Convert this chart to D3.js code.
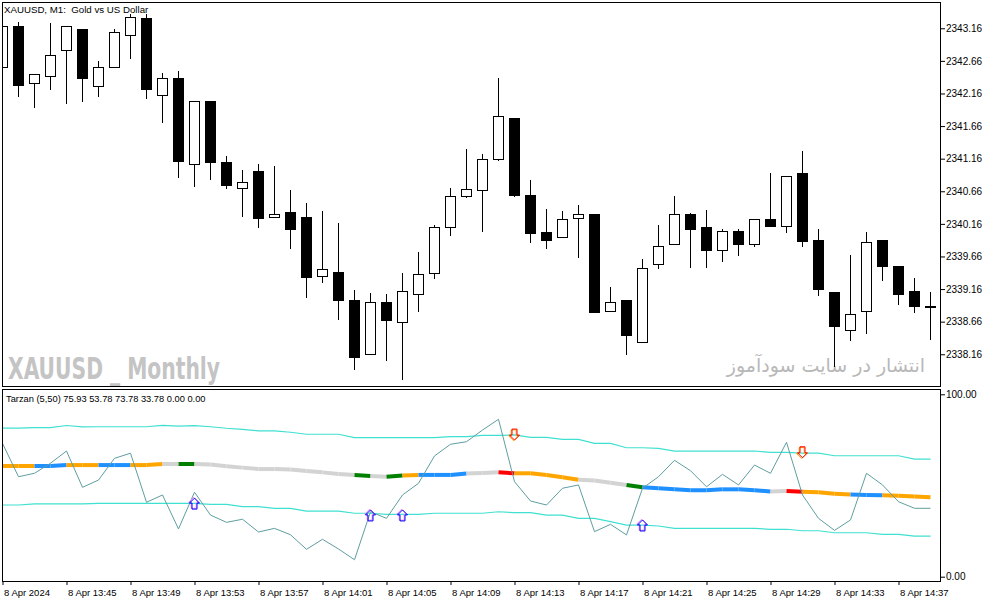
<!DOCTYPE html>
<html lang="en">
<head>
<meta charset="UTF-8">
<title>XAUUSD M1 Tarzan</title>
<script src="https://d3js.org/d3.v7.min.js"></script>
<style>
    body { margin: 0; background: #fff; }
    svg { display: block; font-family: "Liberation Sans", Arial, sans-serif; }
    .axis text { fill: #000; }
    .axis line { stroke: #000; }
</style>
</head>
<body>
<script>
    const W = 994, H = 603;

    // one bar per minute, 8 Apr 2024 13:41 .. 14:39
    const startTime = new Date(2024, 3, 8, 13, 41);

    const open = [2342.56, 2343.18, 2342.32, 2342.42, 2342.82, 2343.14, 2342.26, 2342.56, 2343.05, 2343.31,
        2342.13, 2342.39, 2341.07, 2342.04, 2341.10, 2340.70, 2340.97, 2340.25, 2340.33, 2340.25,
        2339.36, 2339.42, 2338.99, 2338.16, 2338.96, 2338.64, 2339.08, 2339.40, 2340.11, 2340.58,
        2340.67, 2341.15, 2341.77, 2340.60, 2340.02, 2339.95, 2340.24, 2340.31, 2338.82, 2338.99,
        2338.34, 2339.53, 2339.85, 2340.31, 2340.11, 2339.75, 2340.05, 2339.85, 2340.23, 2340.12,
        2340.93, 2339.90, 2339.10, 2338.53, 2338.81, 2339.91, 2339.51, 2339.12, 2338.89];
    const high = [2343.21, 2343.26, 2342.45, 2343.24, 2343.18, 2343.14, 2342.66, 2343.15, 2343.38, 2343.38,
        2342.47, 2342.50, 2342.04, 2342.04, 2341.20, 2340.99, 2341.08, 2341.04, 2340.68, 2340.48,
        2340.36, 2340.17, 2339.15, 2339.10, 2339.08, 2339.40, 2339.73, 2340.14, 2340.71, 2341.31,
        2341.23, 2342.40, 2341.77, 2340.84, 2340.39, 2340.36, 2340.45, 2340.31, 2339.19, 2338.99,
        2339.62, 2340.14, 2340.58, 2340.33, 2340.37, 2340.08, 2340.08, 2340.23, 2340.94, 2340.89,
        2341.28, 2340.08, 2339.10, 2339.69, 2340.04, 2339.91, 2339.51, 2339.33, 2339.12];
    const low = [2342.55, 2342.10, 2341.93, 2342.22, 2342.00, 2342.03, 2342.11, 2342.56, 2342.69, 2342.08,
        2341.70, 2340.87, 2340.72, 2340.84, 2340.70, 2340.26, 2340.10, 2340.25, 2339.78, 2339.03,
        2339.26, 2338.68, 2337.92, 2338.16, 2338.06, 2337.76, 2338.81, 2339.31, 2339.98, 2340.55,
        2340.04, 2341.12, 2340.57, 2339.87, 2339.78, 2339.95, 2339.64, 2338.80, 2338.82, 2338.15,
        2338.34, 2339.47, 2339.85, 2339.49, 2339.49, 2339.57, 2339.66, 2339.81, 2340.12, 2340.02,
        2339.80, 2339.05, 2337.97, 2338.37, 2338.47, 2339.29, 2338.92, 2338.80, 2338.38];
    const close = [2343.18, 2342.28, 2342.45, 2342.75, 2343.18, 2342.39, 2342.56, 2343.10, 2343.33, 2342.22,
        2342.39, 2341.11, 2342.04, 2341.10, 2340.75, 2340.80, 2340.24, 2340.31, 2340.07, 2339.34,
        2339.46, 2338.98, 2338.11, 2338.96, 2338.68, 2339.13, 2339.39, 2340.11, 2340.58, 2340.68,
        2341.15, 2341.80, 2340.59, 2340.01, 2339.90, 2340.23, 2340.31, 2338.80, 2338.96, 2338.45,
        2339.48, 2339.82, 2340.31, 2340.07, 2339.75, 2340.05, 2339.84, 2340.23, 2340.12, 2340.89,
        2339.89, 2339.15, 2338.58, 2338.77, 2339.88, 2339.50, 2339.07, 2338.89, 2338.89];

    // Tarzan (5,50) buffers
    const rsi = [73.1, 54.8, 56.7, 62.2, 68.9, 49.0, 53.0, 64.9, 67.7, 40.8,
        44.8, 26.2, 46.3, 33.8, 29.8, 31.5, 24.5, 26.5, 23.0, 15.0,
        20.5, 15.2, 9.3, 35.6, 32.0, 44.8, 51.2, 66.2, 72.6, 74.0,
        80.4, 86.3, 52.1, 41.5, 39.3, 48.5, 50.3, 24.7, 28.7, 22.9,
        48.5, 54.8, 63.8, 58.1, 49.3, 56.1, 50.3, 61.2, 56.7, 73.7,
        44.8, 32.0, 25.4, 31.1, 56.7, 50.3, 41.1, 37.5, 37.5];
    const upperBand = [81.4, 81.5, 81.7, 81.7, 82.9, 82.1, 82.2, 82.2, 82.2, 82.2,
        83.0, 82.6, 82.8, 82.2, 81.4, 80.8, 80.0, 80.0, 79.2, 78.1,
        78.1, 78.1, 76.2, 76.2, 76.2, 76.2, 76.2, 76.2, 76.8, 76.8,
        77.5, 77.5, 77.7, 76.4, 76.4, 75.3, 75.3, 73.1, 73.1, 70.7,
        70.7, 70.4, 68.9, 68.9, 68.9, 68.9, 68.9, 68.9, 68.2, 68.2,
        67.7, 67.7, 66.3, 66.3, 66.3, 66.3, 66.3, 64.5, 64.5];
    const lowerBand = [39.3, 39.3, 39.9, 39.9, 39.9, 39.9, 40.2, 40.2, 40.2, 40.2,
        40.2, 40.2, 40.2, 39.7, 39.7, 38.4, 38.4, 37.5, 37.5, 36.0,
        36.0, 36.0, 34.8, 34.8, 34.2, 34.2, 34.2, 34.8, 34.8, 34.8,
        34.8, 35.6, 35.1, 35.1, 33.8, 33.8, 32.0, 32.0, 30.2, 28.3,
        28.3, 27.8, 26.5, 26.5, 26.5, 26.5, 26.5, 26.5, 26.0, 26.0,
        25.2, 25.2, 24.1, 24.1, 24.1, 23.2, 23.2, 22.3, 22.3];
    const midLine = [60.7, 60.7, 60.7, 60.7, 61.2, 61.2, 61.2, 61.2, 61.2, 61.2,
        61.8, 61.8, 61.8, 61.5, 60.5, 59.8, 59.0, 59.0, 58.8, 57.9,
        57.2, 56.3, 55.8, 55.2, 54.8, 55.5, 55.8, 55.8, 55.8, 56.6,
        56.9, 57.2, 56.7, 56.7, 55.8, 54.5, 53.2, 52.7, 51.5, 50.3,
        49.0, 48.5, 47.9, 47.4, 47.4, 47.9, 47.9, 47.4, 46.7, 47.0,
        46.6, 46.3, 45.5, 45.1, 44.8, 44.6, 44.4, 44.0, 43.5];
    // colour state of each mid-line segment: D=down, U=up, N=neutral, B=buy, S=sell
    const midState = ["D", "D", "U", "U", "D", "D", "U", "U", "D", "D",
        "N", "B", "N", "N", "N", "N", "N", "N", "N", "N",
        "N", "N", "B", "N", "B", "D", "U", "U", "U", "N",
        "N", "S", "D", "D", "D", "D", "N", "N", "N", "B",
        "U", "U", "U", "U", "U", "U", "U", "U", "N", "S",
        "D", "D", "D", "U", "U", "D", "D", "D", "D"];
    const upArrowBars = [12, 23, 25, 40];
    const upArrowValues = [43.1, 36.6, 36.6, 31.1];
    const downArrowBars = [32, 50];
    const downArrowValues = [74.9, 65.2];

    const priceTicks = [2338.16, 2338.66, 2339.16, 2339.66, 2340.16, 2340.66, 2341.16, 2341.66, 2342.16, 2342.66, 2343.16];
    const oscTicks = [0, 100];
    const timeTickLabels = ["8 Apr 2024", "8 Apr 13:45", "8 Apr 13:49", "8 Apr 13:53", "8 Apr 13:57",
        "8 Apr 14:01", "8 Apr 14:05", "8 Apr 14:09", "8 Apr 14:13", "8 Apr 14:17",
        "8 Apr 14:21", "8 Apr 14:25", "8 Apr 14:29", "8 Apr 14:33", "8 Apr 14:37"];

    const stateColor = { D: "#FFA500", U: "#1E90FF", N: "#D3D3D3", B: "#008000", S: "#FF0000" };

    const barTime = i => d3.timeMinute.offset(startTime, i);
    const bars = open.map((o, i) => ({ t: barTime(i), o, h: high[i], l: low[i], c: close[i] }));

    const x = d3.scaleTime()
        .domain([barTime(0), barTime(open.length - 1)])
        .range([2.5, 930.5]);
    const yPrice = d3.scaleLinear().domain([2337.67, 2343.56]).range([386.2, 2.2]);
    const yOsc = d3.scaleLinear().domain([0, 100]).range([576.7, 394.3]);

    const svg = d3.select("body").append("svg")
        .attr("width", W)
        .attr("height", H);

    svg.append("rect").attr("width", W).attr("height", H).attr("fill", "#fff");

    const defs = svg.append("defs");
    defs.append("clipPath").attr("id", "clipMain")
        .append("rect").attr("x", 3).attr("y", 3).attr("width", 937).attr("height", 383);
    defs.append("clipPath").attr("id", "clipOsc")
        .append("rect").attr("x", 3).attr("y", 390).attr("width", 937).attr("height", 191);

    // watermarks
    svg.append("text")
        .attr("x", 8)
        .attr("y", 379)
        .attr("textLength", 212)
        .attr("lengthAdjust", "spacingAndGlyphs")
        .style("font-family", "'DejaVu Sans Condensed', 'Liberation Sans Narrow', 'DejaVu Sans', sans-serif")
        .style("font-weight", "bold")
        .style("font-size", "30px")
        .style("white-space", "pre")
        .attr("fill", "#c4c4c4")
        .text("XAUUSD _ Monthly");

    svg.append("text")
        .attr("x", 826)
        .attr("y", 372)
        .attr("text-anchor", "middle")
        .style("font-family", "'DejaVu Sans', sans-serif")
        .style("font-size", "19px")
        .attr("fill", "#b8b8b8")
        .text("انتشار در سایت سودآموز");

    // candles
    const candles = svg.append("g")
        .attr("clip-path", "url(#clipMain)")
        .attr("shape-rendering", "crispEdges")
        .selectAll("g")
        .data(bars)
        .enter().append("g");

    candles.append("line")
        .attr("x1", d => x(d.t))
        .attr("x2", d => x(d.t))
        .attr("y1", d => yPrice(d.h))
        .attr("y2", d => yPrice(d.l))
        .attr("stroke", "#000");

    candles.append("rect")
        .attr("x", d => x(d.t) - 5)
        .attr("width", 10)
        .attr("y", d => yPrice(Math.max(d.o, d.c)))
        .attr("height", d => Math.max(0.5, Math.abs(yPrice(d.o) - yPrice(d.c))))
        .attr("fill", d => d.c > d.o ? "#fff" : "#000")
        .attr("stroke", "#000");

    // oscillator
    const osc = svg.append("g").attr("clip-path", "url(#clipOsc)");
    const oscLine = arr => d3.line()
        .x((v, i) => x(barTime(i)))
        .y(v => yOsc(v))(arr);

    osc.append("path").attr("d", oscLine(upperBand))
        .attr("fill", "none").attr("stroke", "#40E0D0").attr("stroke-width", 1.2);
    osc.append("path").attr("d", oscLine(lowerBand))
        .attr("fill", "none").attr("stroke", "#40E0D0").attr("stroke-width", 1.2);

    osc.append("g").selectAll("line")
        .data(midLine.slice(0, -1))
        .enter().append("line")
        .attr("x1", (v, i) => x(barTime(i)))
        .attr("x2", (v, i) => x(barTime(i + 1)))
        .attr("y1", v => yOsc(v))
        .attr("y2", (v, i) => yOsc(midLine[i + 1]))
        .attr("stroke", (v, i) => stateColor[midState[i]])
        .attr("stroke-width", 4);

    osc.append("path").attr("d", oscLine(rsi))
        .attr("fill", "none").attr("stroke", "#5F9EA0").attr("stroke-width", 1);

    const upArrow = "M0,0 L5,5 L2.5,5 L2.5,11 L-2.5,11 L-2.5,5 L-5,5 Z";
    const downArrow = "M0,0 L5,-5 L2.5,-5 L2.5,-11 L-2.5,-11 L-2.5,-5 L-5,-5 Z";

    upArrowBars.forEach((b, i) => {
        const g = osc.append("g")
            .attr("transform", `translate(${x(barTime(b))},${yOsc(upArrowValues[i])})`);
        g.append("path").attr("d", upArrow).attr("transform", "translate(-0.8,-0.8)")
            .attr("fill", "none").attr("stroke", "#EE82EE").attr("stroke-width", 1);
        g.append("path").attr("d", upArrow)
            .attr("fill", "none").attr("stroke", "#0000FF").attr("stroke-width", 1);
    });

    downArrowBars.forEach((b, i) => {
        const g = osc.append("g")
            .attr("transform", `translate(${x(barTime(b))},${yOsc(downArrowValues[i])})`);
        g.append("path").attr("d", downArrow).attr("transform", "translate(-0.8,0.8)")
            .attr("fill", "none").attr("stroke", "#FFA500").attr("stroke-width", 1);
        g.append("path").attr("d", downArrow)
            .attr("fill", "none").attr("stroke", "#FF0000").attr("stroke-width", 1);
    });

    // frames
    const frames = svg.append("g").attr("fill", "none").attr("stroke", "#000")
        .attr("shape-rendering", "crispEdges");
    frames.append("rect").attr("x", 2.5).attr("y", 2.5).attr("width", 938).attr("height", 384);
    frames.append("rect").attr("x", 2.5).attr("y", 389.5).attr("width", 938).attr("height", 192);

    // axes
    const priceAxis = svg.append("g")
        .attr("class", "axis")
        .attr("transform", "translate(941,0)")
        .call(d3.axisRight(yPrice).tickValues(priceTicks).tickSize(4).tickPadding(1).tickFormat(d3.format(".2f")));
    priceAxis.select(".domain").remove();
    priceAxis.selectAll("text").style("font-size", "10px");

    const oscAxis = svg.append("g")
        .attr("class", "axis")
        .attr("transform", "translate(941,0)")
        .call(d3.axisRight(yOsc).tickValues(oscTicks).tickSize(4).tickPadding(1).tickFormat(d3.format(".2f")));
    oscAxis.select(".domain").remove();
    oscAxis.selectAll("text").style("font-size", "10px");

    const timeTicks = timeTickLabels.map((s, i) => barTime(i * 4));
    const timeAxis = svg.append("g")
        .attr("class", "axis")
        .attr("transform", "translate(0,582)")
        .call(d3.axisBottom(x).tickValues(timeTicks).tickSize(3).tickPadding(4)
            .tickFormat((d, i) => timeTickLabels[i]));
    timeAxis.select(".domain").remove();
    timeAxis.selectAll("text")
        .attr("text-anchor", "start")
        .attr("dx", 1)
        .style("font-size", "9.5px");

    // headers
    svg.append("text")
        .attr("x", 4)
        .attr("y", 13)
        .style("font-size", "9.7px")
        .style("white-space", "pre")
        .text("XAUUSD, M1:  Gold vs US Dollar");

    svg.append("text")
        .attr("x", 6)
        .attr("y", 402)
        .style("font-size", "9.3px")
        .text("Tarzan (5,50) 75.93 53.78 73.78 33.78 0.00 0.00");
</script>
</body>
</html>
